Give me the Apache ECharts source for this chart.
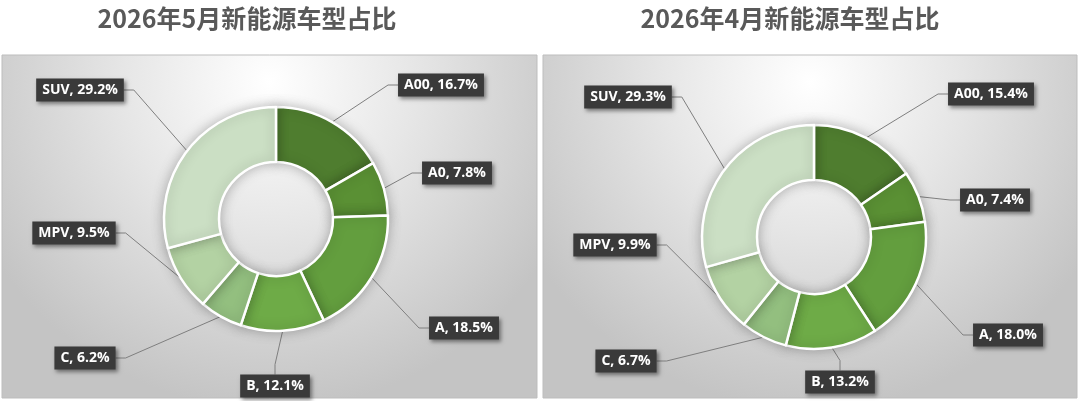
<!DOCTYPE html>
<html>
<head>
<meta charset="utf-8">
<script src="https://cdn.jsdelivr.net/npm/echarts@6/dist/echarts.min.js"></script>
<style>html,body{margin:0;padding:0;background:#fff;}#c{width:1080px;height:401px;}</style>
</head>
<body>
<div id="c"></div>
<script>
// ---- data ----
const categories = ['A00', 'A0', 'A', 'B', 'C', 'MPV', 'SUV'];
const may2026 = [16.7, 7.8, 18.5, 12.1, 6.2, 9.5, 29.2];
const apr2026 = [15.4, 7.4, 18.0, 13.2, 6.7, 9.9, 29.3];
const titles = ['2026年5月新能源车型占比', '2026年4月新能源车型占比'];

// ---- layout / style ----
const colors = ['#4f7d2f', '#5a9034', '#639e3e', '#6eab47', '#93bf7f', '#b3d2a3', '#cbdfc4'];
const labelPos = [
  [[441, 85], [457, 173], [464, 328], [275, 386], [85, 358], [74, 233], [80, 90]],
  [[991, 94], [995, 200], [1008, 335], [840, 382], [626, 361], [615, 245], [628, 97]]
];

const chart = echarts.init(document.getElementById('c'), null, {renderer: 'canvas'});

function panelBg(x, w) {
  return {
    type: 'rect', z: -10, silent: true,
    shape: {x: x, y: 55, width: w, height: 343},
    style: {
      fill: new echarts.graphic.RadialGradient(0.5, 0.08, 0.95, [
        {offset: 0, color: '#ffffff'},
        {offset: 0.45, color: '#e6e6e6'},
        {offset: 1, color: '#c4c4c4'}
      ]),
      stroke: '#bdbdbd', lineWidth: 1
    }
  };
}

function makeSeries(idx, values, center) {
  return {
    type: 'pie',
    center: center,
    radius: [57, 112],
    startAngle: 90,
    clockwise: true,
    avoidLabelOverlap: false,
    data: categories.map((c, i) => ({name: c, value: values[i], itemStyle: {color: colors[i]}})),
    itemStyle: {
      borderColor: '#ffffff', borderWidth: 2.5,
      shadowBlur: 12, shadowColor: 'rgba(0,0,0,0.25)'
    },
    emphasis: {disabled: true},
    label: {
      show: true,
      position: 'outside',
      formatter: p => p.name + ', ' + p.value.toFixed(1) + '%',
      color: '#ffffff',
      fontFamily: 'Open Sans',
      fontWeight: 'bold',
      fontSize: 14,
      backgroundColor: '#3a3a3a',
      padding: [5, 6, 4, 6],
      shadowBlur: 4, shadowColor: 'rgba(0,0,0,0.45)', shadowOffsetX: 2, shadowOffsetY: 2
    },
    labelLine: {
      show: true,
      length: 10, length2: 10,
      lineStyle: {color: '#7f7f7f', width: 1}
    },
    labelLayout: function (params) {
      const p = labelPos[idx][params.dataIndex];
      return {x: p[0], y: p[1], align: 'center', verticalAlign: 'middle'};
    }
  };
}

chart.setOption({
  animation: false,
  graphic: [
    panelBg(2, 535),
    panelBg(543, 534),
    {type: 'text', x: 247, y: 18, style: {text: titles[0], fill: '#595959', font: 'bold 25px "Noto Sans CJK SC", sans-serif', textAlign: 'center', textVerticalAlign: 'middle'}},
    {type: 'text', x: 790, y: 18, style: {text: titles[1], fill: '#595959', font: 'bold 25px "Noto Sans CJK SC", sans-serif', textAlign: 'center', textVerticalAlign: 'middle'}}
  ],
  series: [
    makeSeries(0, may2026, [276, 219]),
    makeSeries(1, apr2026, [814, 237])
  ]
});
</script>
</body>
</html>
